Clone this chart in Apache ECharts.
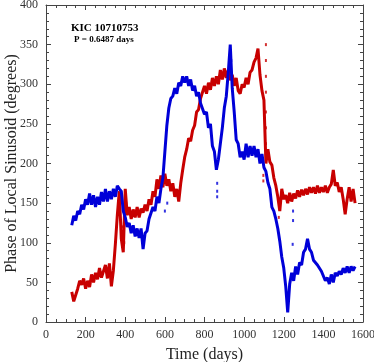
<!DOCTYPE html>
<html><head><meta charset="utf-8">
<script src="https://cdn.jsdelivr.net/npm/echarts@6/dist/echarts.min.js"></script>
<style>html,body{margin:0;padding:0;background:#fff}#c{width:374px;height:362px}</style>
</head><body><div id="c"></div>
<script>
const days = [130,140,150,160,170,180,190,200,210,220,230,240,250,260,270,280,290,300,310,320,330,340,350,360,370,380,390,400,410,420,430,440,450,460,470,480,490,500,510,520,530,540,550,560,570,580,590,600,610,620,630,640,650,660,670,680,690,700,710,720,730,740,750,760,770,780,790,800,810,820,830,840,850,860,870,880,890,900,910,920,930,940,950,960,970,980,990,1000,1010,1020,1030,1040,1050,1060,1070,1080,1090,1100,1110,1120,1130,1140,1150,1160,1170,1180,1190,1200,1210,1220,1230,1240,1250,1260,1270,1280,1290,1300,1310,1320,1330,1340,1350,1360,1370,1380,1390,1400,1410,1420,1430,1440,1450,1460,1470,1480,1490,1500,1510,1520,1530,1540,1550,1560];
const redPhase = [38,26,34,42,52,47,55,42,52,44,60,50,62,54,68,56,64,72,55,74,45,65,98,135,165,105,88,168,135,145,130,142,132,145,132,143,138,148,140,155,148,165,158,180,168,185,170,187,172,180,165,175,158,168,152,175,192,208,218,232,228,242,248,265,268,282,280,298,288,302,293,308,298,310,300,318,306,320,308,318,305,312,298,308,292,288,300,296,308,300,315,318,328,333,345,312,292,280,200,218,202,198,182,172,158,140,168,155,160,150,163,152,162,156,166,158,167,160,168,161,170,163,170,162,172,163,170,164,172,163,170,174,192,172,176,164,170,155,136,155,170,152,168,150];
const bluePhase = [122,134,128,140,136,148,142,155,148,162,148,160,145,158,148,164,152,168,152,165,155,168,158,172,168,165,140,132,120,125,112,122,108,118,106,118,92,112,115,130,128,145,140,158,150,168,182,215,248,270,282,285,295,288,302,298,310,302,310,298,306,292,298,285,290,276,278,262,265,245,250,222,215,192,205,225,245,270,285,315,350,295,265,230,225,208,215,205,225,208,222,210,222,208,218,200,212,195,190,176,168,145,140,130,118,102,82,68,45,12,48,62,52,70,60,75,72,88,92,105,92,88,78,80,72,70,64,65,52,56,48,60,50,62,58,64,60,68,62,70,62,70,65,70];
const redExtra = [[1110,350],[1110,330],[1110,310],[1110,290],[1110,265],[1110,245],[1110,225],[1097,185],[1097,178],[385,120],[395,100],[405,150],[1175,132]];
const blueExtra = [[864,175],[864,165],[864,158],[1247,140],[1247,128],[1245,98],[935,330],[935,315],[600,140],[612,150]];
const xTicks = {min:0, max:1600, step:200};
const yTicks = {min:0, max:400, step:50};

const serif = 'Liberation Serif';
const axisCol = '#444';
function pairs(v){ return days.map((d,i)=>[d,v[i]]); }
const chart = echarts.init(document.getElementById('c'));
const baseX = {type:'value', min:xTicks.min, max:xTicks.max, interval:xTicks.step,
  axisLine:{show:true, onZero:false, lineStyle:{color:axisCol, width:1}},
  axisTick:{show:true, inside:true, length:5, lineStyle:{color:axisCol}},
  minorTick:{show:true, splitNumber:4, length:3, lineStyle:{color:axisCol}},
  splitLine:{show:false}};
const baseY = {type:'value', min:yTicks.min, max:yTicks.max, interval:yTicks.step,
  axisLine:{show:true, onZero:false, lineStyle:{color:axisCol, width:1}},
  axisTick:{show:true, inside:true, length:5, lineStyle:{color:axisCol}},
  minorTick:{show:true, splitNumber:5, length:3, lineStyle:{color:axisCol}},
  splitLine:{show:false}};
const fmt = v => String(v);
chart.setOption({
  animation:false,
  grid:{left:46, right:11, top:5, bottom:40, containLabel:false, outerBoundsMode:'none'},
  title:[
    {text:'KIC 10710753', left:66, top:18, textStyle:{fontFamily:serif, fontWeight:'bold', fontSize:11, color:'#000'}},
    {text:'P = 0.6487 days', left:69, top:30, textStyle:{fontFamily:serif, fontWeight:'bold', fontSize:9, color:'#000'}}
  ],
  xAxis:[
    Object.assign({}, baseX, {position:'bottom', name:'Time (days)', nameLocation:'middle', nameGap:25, nameMoveOverlap:false,
      nameTextStyle:{fontFamily:serif, fontSize:16, color:'#222'},
      axisLabel:{fontFamily:serif, fontSize:12, color:'#333', margin:7, formatter:fmt}}),
    Object.assign({}, baseX, {position:'top', axisLabel:{show:false}})
  ],
  yAxis:[
    Object.assign({}, baseY, {position:'left', name:'Phase of Local Sinusoid (degrees)', nameLocation:'middle', nameGap:26, nameMoveOverlap:false,
      nameTextStyle:{fontFamily:serif, fontSize:16, color:'#222'},
      axisLabel:{fontFamily:serif, fontSize:12, color:'#333', margin:8, formatter:fmt}}),
    Object.assign({}, baseY, {position:'right', axisLabel:{show:false}})
  ],
  series:[
    {type:'line', data:pairs(redPhase), symbol:'none', lineStyle:{color:'#c80000', width:3}, z:2},
    {type:'scatter', data:redExtra, symbol:'rect', symbolSize:[2,3], itemStyle:{color:'#c80000'}, z:2},
    {type:'line', data:pairs(bluePhase), symbol:'none', lineStyle:{color:'#0000d8', width:3}, z:3},
    {type:'scatter', data:blueExtra, symbol:'rect', symbolSize:[2,3], itemStyle:{color:'#0000d8'}, z:3}
  ]
});
</script></body></html>
